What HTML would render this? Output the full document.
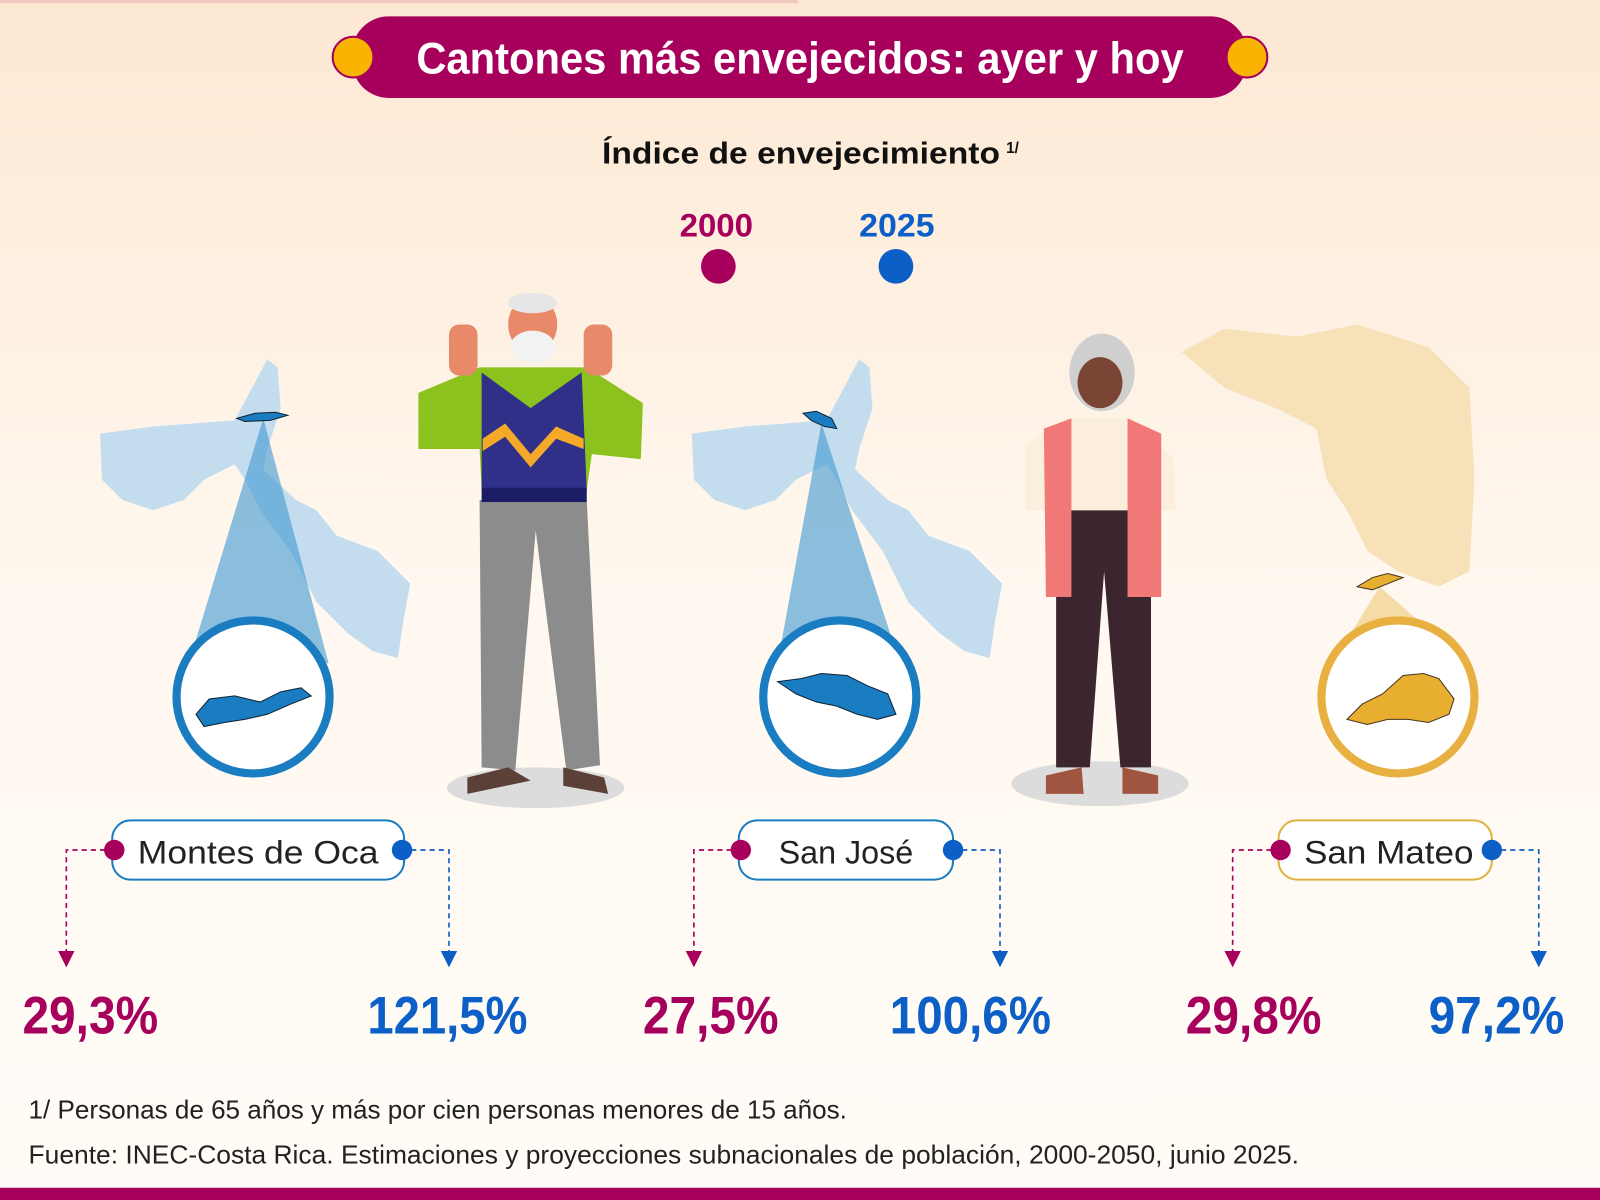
<!DOCTYPE html>
<html><head><meta charset="utf-8"><style>
html,body{margin:0;padding:0;width:1600px;height:1200px;overflow:hidden}
svg{display:block}
text{font-family:"Liberation Sans",sans-serif}
</style></head><body>
<svg width="1600" height="1200" viewBox="0 0 1568 1176" xmlns="http://www.w3.org/2000/svg">
<defs>
<linearGradient id="bg" x1="0" y1="0" x2="0" y2="1">
<stop offset="0" stop-color="#fde8d3"/><stop offset="0.5" stop-color="#fff8f0"/><stop offset="1" stop-color="#fffcf7"/>
</linearGradient>
<marker id="am" markerWidth="10" markerHeight="10" refX="5" refY="5" orient="auto"><path d="M0,0 L10,5 L0,10z" fill="#a6005c"/></marker>
<marker id="ab" markerWidth="10" markerHeight="10" refX="5" refY="5" orient="auto"><path d="M0,0 L10,5 L0,10z" fill="#0b5fc7"/></marker>
</defs>
<rect width="1568" height="1176" fill="url(#bg)"/>
<rect x="0" y="0" width="782" height="3" fill="#f0c8c0"/>
<rect x="345" y="16" width="877" height="80" rx="36" fill="#a6005c"/>
<circle cx="346" cy="56" r="20" fill="#f8b400" stroke="#a6005c" stroke-width="2"/>
<circle cx="1222" cy="56" r="20" fill="#f8b400" stroke="#a6005c" stroke-width="2"/>
<text x="408" y="72" font-size="44" font-weight="bold" fill="#fff" textLength="752" lengthAdjust="spacingAndGlyphs">Cantones más envejecidos: ayer y hoy</text>
<text x="590" y="160" font-size="30" font-weight="bold" fill="#111" textLength="390" lengthAdjust="spacingAndGlyphs">Índice de envejecimiento</text>
<text x="986" y="150" font-size="15" font-weight="bold" fill="#111">1/</text>
<text x="666" y="232" font-size="32" font-weight="bold" fill="#a6005c" textLength="72" lengthAdjust="spacingAndGlyphs">2000</text>
<text x="842" y="232" font-size="32" font-weight="bold" fill="#0b5fc7" textLength="74" lengthAdjust="spacingAndGlyphs">2025</text>
<circle cx="704" cy="261" r="17" fill="#a6005c"/>
<circle cx="878" cy="261" r="17" fill="#0b5fc7"/>
<g id="m1"><polygon fill="#c3ddee" points="98,425 150,418 230,412 262,352 272,360 275,400 262,440 258,460 290,490 310,500 330,525 370,540 402,572 395,610 390,645 365,638 340,620 310,590 300,570 285,540 255,500 240,470 230,455 200,470 180,490 150,500 120,490 100,470"/></g>
<use href="#m1" x="580" y="0"/>
<polygon fill="#f6e1b8" points="1158,345 1200,322 1270,330 1330,318 1400,340 1440,380 1445,470 1440,560 1410,575 1370,560 1340,540 1320,500 1300,470 1290,420 1250,400 1200,380"/>
<polygon points="258,410 185,650 322,650" fill="#3d97d0" opacity="0.6"/>
<polygon points="805,415 762,650 882,650" fill="#3d97d0" opacity="0.6"/>
<polygon points="1352,575 1318,630 1415,630" fill="#f1cf86" opacity="0.7"/>
<path d="M232,410 L250,405 L270,404 L282,407 L265,412 L240,413z" fill="#1a7cc1" stroke="#123" stroke-width="1"/>
<path d="M787,405 L800,403 L815,410 L820,420 L808,418 L795,412z" fill="#1a7cc1" stroke="#123" stroke-width="1"/>
<path d="M1330,575 L1345,566 L1360,562 L1375,566 L1360,572 L1345,578z" fill="#e8ae30" stroke="#432" stroke-width="1"/>
<circle cx="248" cy="683" r="75" fill="#fff" stroke="#1a7cc1" stroke-width="8"/>
<circle cx="823" cy="683" r="75" fill="#fff" stroke="#1a7cc1" stroke-width="8"/>
<circle cx="1370" cy="683" r="75" fill="#fff" stroke="#e8b040" stroke-width="8"/>
<path d="M192,700 L205,685 L230,682 L255,688 L275,678 L295,674 L305,682 L285,690 L262,700 L240,705 L220,708 L200,712z" fill="#1a7cc1" stroke="#123" stroke-width="1"/>
<path d="M762,668 L785,665 L805,660 L830,662 L850,672 L870,680 L878,700 L860,705 L840,700 L820,692 L800,688 L780,680z" fill="#1a7cc1" stroke="#123" stroke-width="1"/>
<path d="M1320,705 L1335,690 L1355,680 L1375,662 L1395,660 L1410,665 L1425,685 L1420,700 L1400,708 L1380,705 L1360,705 L1340,710z" fill="#e8ae30" stroke="#432" stroke-width="1"/>
<ellipse cx="525" cy="772" rx="87" ry="20" fill="#dcdcdc"/>
<path d="M470,490 L575,490 L588,750 L555,755 L525,520 L505,755 L472,752z" fill="#8c8c8c"/>
<path d="M410,385 L470,360 L575,360 L630,395 L628,450 L580,445 L575,480 L472,480 L470,440 L410,440z" fill="#8cc21e"/>
<path d="M472,365 L520,400 L570,365 L575,480 L472,480z" fill="#303089"/>
<path d="M473,430 L495,415 L520,445 L545,418 L572,430 L572,440 L545,430 L520,458 L495,428 L473,442z" fill="#f4a928"/>
<rect x="472" y="478" width="103" height="14" fill="#1b1b66"/>
<rect x="440" y="318" width="28" height="50" rx="10" fill="#e8896a"/>
<rect x="572" y="318" width="28" height="50" rx="10" fill="#e8896a"/>
<ellipse cx="522" cy="318" rx="24" ry="28" fill="#e8896a"/>
<ellipse cx="522" cy="340" rx="22" ry="16" fill="#f2f2f2"/>
<ellipse cx="522" cy="297" rx="24" ry="10" fill="#e6e6e6"/>
<path d="M458,762 L498,752 L520,765 L458,778z M552,752 L592,762 L596,778 L552,770z" fill="#5b4038"/>
<ellipse cx="1078" cy="768" rx="87" ry="22" fill="#dcdcdc"/>
<path d="M1035,500 L1128,500 L1128,752 L1098,752 L1082,560 L1068,752 L1035,752z" fill="#3d2530"/>
<path d="M1005,435 L1045,410 L1110,410 L1150,450 L1152,500 L1005,500z" fill="#fbeedd"/>
<path d="M1023,420 L1050,410 L1050,585 L1025,585z M1105,410 L1138,425 L1138,585 L1105,585z" fill="#f07876"/>
<ellipse cx="1080" cy="365" rx="32" ry="38" fill="#cfcfcf"/>
<ellipse cx="1078" cy="375" rx="22" ry="25" fill="#7a4535"/>
<path d="M1025,760 L1060,752 L1062,778 L1025,778z M1100,752 L1135,760 L1135,778 L1100,778z" fill="#a05540"/>
<g fill="none" stroke-width="1.6" stroke-dasharray="5,4">
<path d="M112,833 H65 V940" stroke="#a6005c" marker-end="url(#am)"/>
<path d="M394,833 H440 V940" stroke="#0b5fc7" marker-end="url(#ab)"/>
<path d="M726,833 H680 V940" stroke="#a6005c" marker-end="url(#am)"/>
<path d="M934,833 H980 V940" stroke="#0b5fc7" marker-end="url(#ab)"/>
<path d="M1255,833 H1208 V940" stroke="#a6005c" marker-end="url(#am)"/>
<path d="M1462,833 H1508 V940" stroke="#0b5fc7" marker-end="url(#ab)"/>
</g>
<rect x="110" y="804" width="286" height="58" rx="18" fill="#fff" stroke="#1a7cc1" stroke-width="2"/>
<rect x="724" y="804" width="210" height="58" rx="18" fill="#fff" stroke="#1a7cc1" stroke-width="2"/>
<rect x="1253" y="804" width="209" height="58" rx="18" fill="#fff" stroke="#e0b040" stroke-width="2"/>
<text x="253" y="846" font-size="32" fill="#222" text-anchor="middle" textLength="236" lengthAdjust="spacingAndGlyphs">Montes de Oca</text>
<text x="829" y="846" font-size="32" fill="#222" text-anchor="middle" textLength="132" lengthAdjust="spacingAndGlyphs">San José</text>
<text x="1361" y="846" font-size="32" fill="#222" text-anchor="middle" textLength="166" lengthAdjust="spacingAndGlyphs">San Mateo</text>
<circle cx="112" cy="833" r="10" fill="#a6005c"/><circle cx="394" cy="833" r="10" fill="#0b5fc7"/>
<circle cx="726" cy="833" r="10" fill="#a6005c"/><circle cx="934" cy="833" r="10" fill="#0b5fc7"/>
<circle cx="1255" cy="833" r="10" fill="#a6005c"/><circle cx="1462" cy="833" r="10" fill="#0b5fc7"/>
<g font-size="52" font-weight="bold">
<text x="22" y="1013" fill="#a6005c" textLength="133" lengthAdjust="spacingAndGlyphs">29,3%</text>
<text x="360" y="1013" fill="#0b5fc7" textLength="157" lengthAdjust="spacingAndGlyphs">121,5%</text>
<text x="630" y="1013" fill="#a6005c" textLength="133" lengthAdjust="spacingAndGlyphs">27,5%</text>
<text x="872" y="1013" fill="#0b5fc7" textLength="158" lengthAdjust="spacingAndGlyphs">100,6%</text>
<text x="1162" y="1013" fill="#a6005c" textLength="133" lengthAdjust="spacingAndGlyphs">29,8%</text>
<text x="1400" y="1013" fill="#0b5fc7" textLength="133" lengthAdjust="spacingAndGlyphs">97,2%</text>
</g>
<text x="28" y="1096" font-size="25" fill="#222" textLength="802" lengthAdjust="spacingAndGlyphs">1/ Personas de 65 años y más por cien personas menores de 15 años.</text>
<text x="28" y="1140" font-size="25" fill="#222" textLength="1245" lengthAdjust="spacingAndGlyphs">Fuente: INEC-Costa Rica. Estimaciones y proyecciones subnacionales de población, 2000-2050, junio 2025.</text>
<rect x="0" y="1164" width="1568" height="12" fill="#a6005c"/>
</svg>
</body></html>
